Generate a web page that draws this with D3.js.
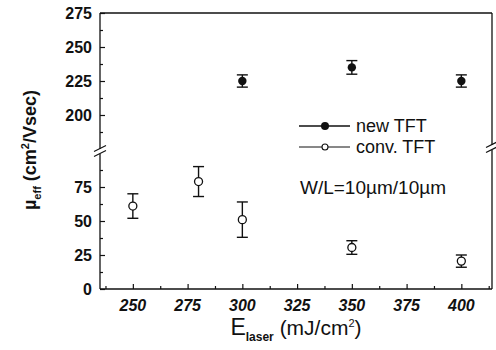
<!DOCTYPE html>
<html>
<head>
<meta charset="utf-8">
<script src="https://cdn.jsdelivr.net/npm/d3@7"></script>
<style>
  body { margin: 0; background: #fff; }
  text { font-family: Arial, "Liberation Sans", sans-serif; fill: #111; }
</style>
</head>
<body>
<svg id="chart" width="496" height="350"></svg>
<script>
// data
const energy = [250, 280, 300, 350, 400];
const newE = [300, 350, 400];
const newMu = [225, 235, 225];
const newErr = [4.5, 5, 4.5];
const convMu = [61, 79, 51, 30.5, 20.5];
const convErr = [9, 11, 13, 5, 4.5];
const xTicks = [250, 275, 300, 325, 350, 375, 400];
const yLowTicks = [0, 25, 50, 75];
const yHighTicks = [200, 225, 250, 275];

const svg = d3.select("#chart");
const pL = 100, pR = 492, pT = 13, pB = 289;

const x = d3.scaleLinear().domain([235, 414]).range([pL, pR]);
const yLow = d3.scaleLinear().domain([0, 100]).range([pB, 153]);
const yHigh = d3.scaleLinear().domain([175, 275]).range([149, pT]);

const ink = "#111";

// box frame
const frame = svg.append("g").attr("stroke", ink).attr("stroke-width", 1.3).attr("fill", "none");
frame.append("line").attr("x1", pL).attr("x2", pR).attr("y1", pT).attr("y2", pT);
frame.append("line").attr("x1", pL).attr("x2", pR).attr("y1", pB).attr("y2", pB);
frame.append("line").attr("x1", pL).attr("x2", pL).attr("y1", pT).attr("y2", 149);
frame.append("line").attr("x1", pL).attr("x2", pL).attr("y1", 154).attr("y2", pB);
frame.append("line").attr("x1", pR).attr("x2", pR).attr("y1", pT).attr("y2", 145);
frame.append("line").attr("x1", pR).attr("x2", pR).attr("y1", 150).attr("y2", pB);

// break marks
[[pL, 151], [pR, 147]].forEach(([bx, by]) => {
  [-2.5, 2.5].forEach(off => {
    svg.append("line")
      .attr("x1", bx - 6).attr("y1", by + off + 3)
      .attr("x2", bx + 6).attr("y2", by + off - 3)
      .attr("stroke", ink).attr("stroke-width", 1.2);
  });
});

// axes with inward ticks
const axLow = svg.append("g").attr("transform", `translate(${pL},0)`)
  .call(d3.axisRight(yLow).tickValues(yLowTicks).tickSize(5).tickFormat(""));
const axLowMinor = svg.append("g").attr("transform", `translate(${pL},0)`)
  .call(d3.axisRight(yLow).tickValues([12.5, 37.5, 62.5, 87.5]).tickSize(3).tickFormat(""));
const axHigh = svg.append("g").attr("transform", `translate(${pL},0)`)
  .call(d3.axisRight(yHigh).tickValues(yHighTicks).tickSize(5).tickFormat(""));
const axHighMinor = svg.append("g").attr("transform", `translate(${pL},0)`)
  .call(d3.axisRight(yHigh).tickValues([187.5, 212.5, 237.5, 262.5]).tickSize(3).tickFormat(""));
const axX = svg.append("g").attr("transform", `translate(0,${pB})`)
  .call(d3.axisTop(x).tickValues(xTicks).tickSize(5).tickFormat(""));
const axXMinor = svg.append("g").attr("transform", `translate(0,${pB})`)
  .call(d3.axisTop(x).tickValues(d3.range(237.5, 414, 25)).tickSize(3).tickFormat(""));
[axLow, axLowMinor, axHigh, axHighMinor, axX, axXMinor].forEach(a => {
  a.select(".domain").remove();
  a.selectAll("line").attr("stroke", ink).attr("stroke-width", 1.2);
});

// tick labels
svg.selectAll("text.ylow").data(yLowTicks).enter().append("text")
  .attr("x", 92).attr("y", d => yLow(d) + 6)
  .attr("text-anchor", "end").style("font-size", "16px").style("font-weight", "bold")
  .text(d => d);
svg.selectAll("text.yhigh").data(yHighTicks).enter().append("text")
  .attr("x", 92).attr("y", d => yHigh(d) + 6)
  .attr("text-anchor", "end").style("font-size", "16px").style("font-weight", "bold")
  .text(d => d);
svg.selectAll("text.xt").data(xTicks).enter().append("text")
  .attr("x", d => x(d)).attr("y", 311)
  .attr("text-anchor", "middle").style("font-size", "16px").style("font-weight", "bold")
  .style("font-style", "italic")
  .text(d => d);

// error bars helper
function errorBars(xs, ys, es, yScale) {
  const g = svg.append("g").attr("stroke", ink).attr("stroke-width", 1.4);
  xs.forEach((xv, i) => {
    const cx = x(xv), y1 = yScale(ys[i] + es[i]), y2 = yScale(ys[i] - es[i]);
    g.append("line").attr("x1", cx).attr("x2", cx).attr("y1", y1).attr("y2", y2);
    g.append("line").attr("x1", cx - 5.5).attr("x2", cx + 5.5).attr("y1", y1).attr("y2", y1);
    g.append("line").attr("x1", cx - 5.5).attr("x2", cx + 5.5).attr("y1", y2).attr("y2", y2);
  });
}

errorBars(newE, newMu, newErr, yHigh);
svg.selectAll("circle.new").data(newE).enter().append("circle")
  .attr("cx", d => x(d)).attr("cy", (d, i) => yHigh(newMu[i])).attr("r", 4.2)
  .attr("fill", ink);

errorBars(energy, convMu, convErr, yLow);
svg.selectAll("circle.conv").data(energy).enter().append("circle")
  .attr("cx", d => x(d)).attr("cy", (d, i) => yLow(convMu[i])).attr("r", 4)
  .attr("fill", "#fff").attr("stroke", ink).attr("stroke-width", 1.3);

// legend
svg.append("line").attr("x1", 299).attr("x2", 350).attr("y1", 126).attr("y2", 126)
  .attr("stroke", ink).attr("stroke-width", 1.6);
svg.append("circle").attr("cx", 325).attr("cy", 126).attr("r", 4).attr("fill", ink);
svg.append("text").attr("x", 356).attr("y", 132).style("font-size", "18px").text("new TFT");

svg.append("line").attr("x1", 299).attr("x2", 350).attr("y1", 147).attr("y2", 147)
  .attr("stroke", ink).attr("stroke-width", 1);
svg.append("circle").attr("cx", 325).attr("cy", 147).attr("r", 3)
  .attr("fill", "#fff").attr("stroke", ink).attr("stroke-width", 1.1);
svg.append("text").attr("x", 356).attr("y", 153).style("font-size", "18px").text("conv. TFT");

svg.append("text").attr("x", 300).attr("y", 194).style("font-size", "19px")
  .text("W/L=10\u00b5m/10\u00b5m");

// axis titles
const yt = svg.append("text")
  .attr("transform", "translate(36,150) rotate(-90)")
  .attr("text-anchor", "middle").style("font-size", "18px").style("font-weight", "bold");
yt.append("tspan").text("\u00b5");
yt.append("tspan").attr("dy", 5).style("font-size", "11px").text("eff");
yt.append("tspan").attr("dy", -5).text(" (cm");
yt.append("tspan").attr("dy", -7).style("font-size", "11px").text("2");
yt.append("tspan").attr("dy", 7).text("/Vsec)");

const xt = svg.append("text")
  .attr("x", 296).attr("y", 335)
  .attr("text-anchor", "middle").style("font-size", "21px");
xt.append("tspan").style("font-size", "23px").text("E");
xt.append("tspan").attr("dy", 6).style("font-size", "12px").style("font-weight", "bold").text("laser");
xt.append("tspan").attr("dy", -6).text(" (mJ/cm");
xt.append("tspan").attr("dy", -8).style("font-size", "11px").text("2");
xt.append("tspan").attr("dy", 8).text(")");
</script>
</body>
</html>
